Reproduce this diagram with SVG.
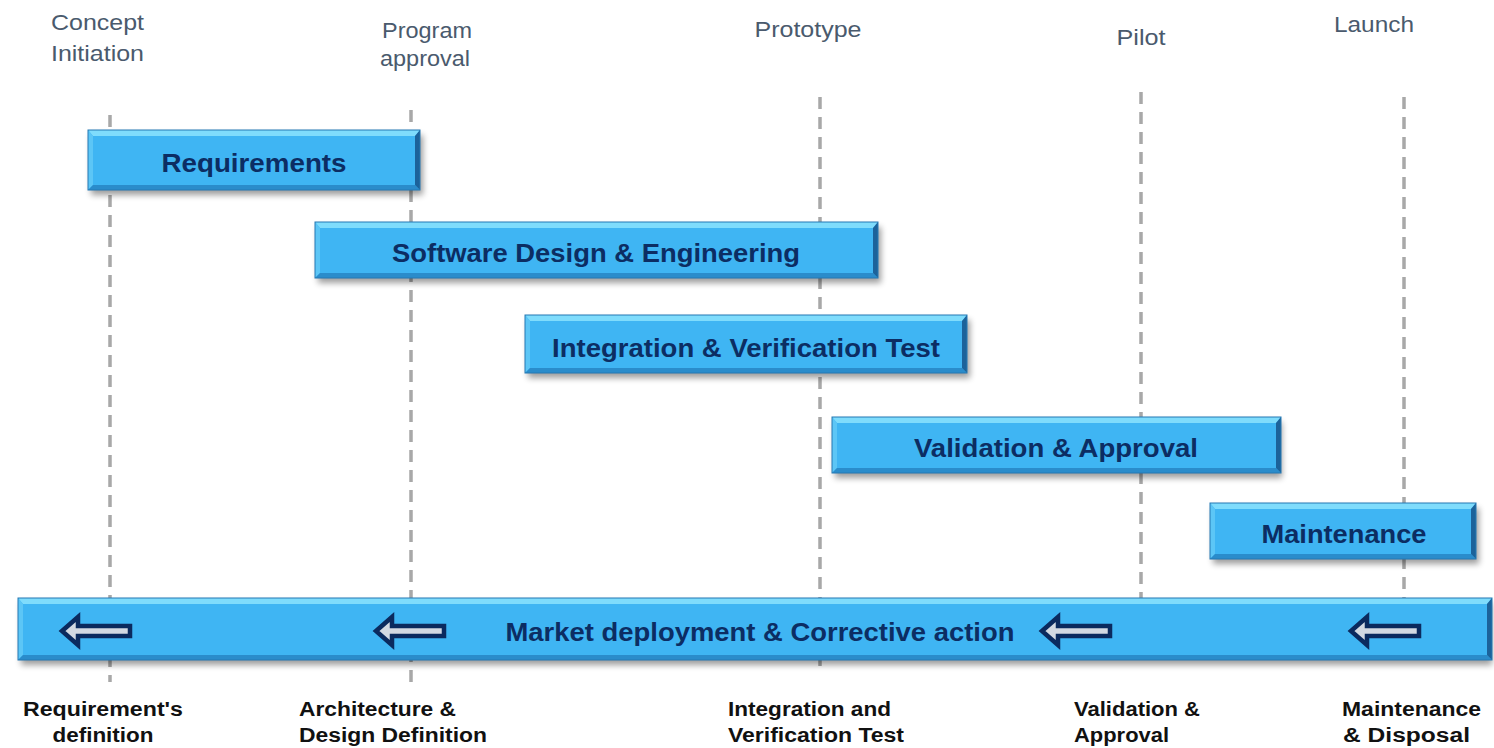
<svg xmlns="http://www.w3.org/2000/svg" width="1494" height="748" viewBox="0 0 1494 748">
  <defs>
    <style>
      .milestone { font-family: "Liberation Sans", Arial, sans-serif; font-size: 22px; fill: #4a5a6d; }
      .phase { font-family: "Liberation Sans", Arial, sans-serif; font-size: 26px; font-weight: bold; fill: #0c2d63; }
      .deliverable { font-family: "Liberation Sans", Arial, sans-serif; font-size: 20px; font-weight: bold; fill: #111111; }
      .guide { stroke: #a8a8a8; stroke-width: 3.5; stroke-dasharray: 12 8; fill: none; }
      .face { fill: #3fb5f3; }
      .bev-top { fill: #7fdcfc; }
      .bev-left { fill: #5cc6f6; }
      .bev-bottom { fill: #2a8ccb; }
      .bev-right { fill: #1c629a; }
      .edge { fill: none; stroke: #2479b3; stroke-width: 1; }
      .shadow { fill: #000; opacity: 0.38; filter: url(#soft); }
      .back-arrow { fill: #d3d9e2; stroke: #0b2a5e; stroke-width: 4.5; stroke-linejoin: miter; }
    </style>
    <filter id="soft" x="-5%" y="-40%" width="110%" height="180%">
      <feGaussianBlur stdDeviation="3"/>
    </filter>
    <!-- left-pointing block arrow, tip at origin -->
    <path id="arrow-left" class="back-arrow" d="M2,0 L18,-14 L18,-5 L70,-5 L70,5 L18,5 L18,14 Z"/>
  </defs>

  <rect width="1494" height="748" fill="#ffffff"/>

  <!-- milestone guide lines -->
  <g id="connectors">
    <line class="guide" x1="110" y1="115" x2="110" y2="682"/>
    <line class="guide" x1="411" y1="110" x2="411" y2="682"/>
    <line class="guide" x1="820" y1="97" x2="820" y2="666"/>
    <line class="guide" x1="1141" y1="92" x2="1141" y2="602"/>
    <line class="guide" x1="1404" y1="97" x2="1404" y2="612"/>
  </g>

  <!-- milestones -->
  <g id="milestone-concept">
    <text class="milestone" x="51" y="30" textLength="93" lengthAdjust="spacingAndGlyphs">Concept</text>
    <text class="milestone" x="51" y="61" textLength="93" lengthAdjust="spacingAndGlyphs">Initiation</text>
  </g>
  <g id="milestone-program">
    <text class="milestone" x="382" y="38" textLength="90" lengthAdjust="spacingAndGlyphs">Program</text>
    <text class="milestone" x="380" y="66" textLength="90" lengthAdjust="spacingAndGlyphs">approval</text>
  </g>
  <g id="milestone-prototype">
    <text class="milestone" x="808" y="37" text-anchor="middle" textLength="107" lengthAdjust="spacingAndGlyphs">Prototype</text>
  </g>
  <g id="milestone-pilot">
    <text class="milestone" x="1141" y="45" text-anchor="middle" textLength="49" lengthAdjust="spacingAndGlyphs">Pilot</text>
  </g>
  <g id="milestone-launch">
    <text class="milestone" x="1374" y="32" text-anchor="middle" textLength="80" lengthAdjust="spacingAndGlyphs">Launch</text>
  </g>

  <!-- phase bars -->
  <g id="phase-requirements">
    <rect class="shadow" x="91" y="135" width="332" height="60"/>
    <rect class="face" x="88" y="130" width="332" height="60"/>
    <polygon class="bev-top" points="88,130 420,130 415,136 93,136"/>
    <polygon class="bev-left" points="88,130 93,136 93,185 88,190"/>
    <polygon class="bev-bottom" points="88,190 93,185 415,185 420,190"/>
    <polygon class="bev-right" points="420,130 420,190 415,185 415,136"/>
    <rect class="edge" x="88" y="130" width="332" height="60"/>
    <text class="phase" x="254" y="172" text-anchor="middle" textLength="185" lengthAdjust="spacingAndGlyphs">Requirements</text>
  </g>

  <g id="phase-software-design">
    <rect class="shadow" x="318" y="227" width="563" height="56"/>
    <rect class="face" x="315" y="222" width="563" height="56"/>
    <polygon class="bev-top" points="315,222 878,222 873,228 320,228"/>
    <polygon class="bev-left" points="315,222 320,228 320,273 315,278"/>
    <polygon class="bev-bottom" points="315,278 320,273 873,273 878,278"/>
    <polygon class="bev-right" points="878,222 878,278 873,273 873,228"/>
    <rect class="edge" x="315" y="222" width="563" height="56"/>
    <text class="phase" x="596" y="262" text-anchor="middle" textLength="408" lengthAdjust="spacingAndGlyphs">Software Design &amp; Engineering</text>
  </g>

  <g id="phase-integration">
    <rect class="shadow" x="528" y="320" width="442" height="58"/>
    <rect class="face" x="525" y="315" width="442" height="58"/>
    <polygon class="bev-top" points="525,315 967,315 962,321 530,321"/>
    <polygon class="bev-left" points="525,315 530,321 530,368 525,373"/>
    <polygon class="bev-bottom" points="525,373 530,368 962,368 967,373"/>
    <polygon class="bev-right" points="967,315 967,373 962,368 962,321"/>
    <rect class="edge" x="525" y="315" width="442" height="58"/>
    <text class="phase" x="746" y="357" text-anchor="middle" textLength="388" lengthAdjust="spacingAndGlyphs">Integration &amp; Verification Test</text>
  </g>

  <g id="phase-validation">
    <rect class="shadow" x="835" y="422" width="447" height="56"/>
    <rect class="face" x="832" y="417" width="449" height="56"/>
    <polygon class="bev-top" points="832,417 1281,417 1276,423 837,423"/>
    <polygon class="bev-left" points="832,417 837,423 837,468 832,473"/>
    <polygon class="bev-bottom" points="832,473 837,468 1276,468 1281,473"/>
    <polygon class="bev-right" points="1281,417 1281,473 1276,468 1276,423"/>
    <rect class="edge" x="832" y="417" width="449" height="56"/>
    <text class="phase" x="1056" y="457" text-anchor="middle" textLength="284" lengthAdjust="spacingAndGlyphs">Validation &amp; Approval</text>
  </g>

  <g id="phase-maintenance">
    <rect class="shadow" x="1213" y="508" width="266" height="56"/>
    <rect class="face" x="1210" y="503" width="266" height="56"/>
    <polygon class="bev-top" points="1210,503 1476,503 1471,509 1215,509"/>
    <polygon class="bev-left" points="1210,503 1215,509 1215,554 1210,559"/>
    <polygon class="bev-bottom" points="1210,559 1215,554 1471,554 1476,559"/>
    <polygon class="bev-right" points="1476,503 1476,559 1471,554 1471,509"/>
    <rect class="edge" x="1210" y="503" width="266" height="56"/>
    <text class="phase" x="1344" y="543" text-anchor="middle" textLength="165" lengthAdjust="spacingAndGlyphs">Maintenance</text>
  </g>

  <g id="phase-market-deployment">
    <rect class="shadow" x="21" y="603" width="1471" height="62"/>
    <rect class="face" x="18" y="598" width="1474" height="62"/>
    <polygon class="bev-top" points="18,598 1492,598 1487,604 23,604"/>
    <polygon class="bev-left" points="18,598 23,604 23,655 18,660"/>
    <polygon class="bev-bottom" points="18,660 23,655 1487,655 1492,660"/>
    <polygon class="bev-right" points="1492,598 1492,660 1487,655 1487,604"/>
    <rect class="edge" x="18" y="598" width="1474" height="62"/>
    <text class="phase" x="760" y="641" text-anchor="middle" textLength="509" lengthAdjust="spacingAndGlyphs">Market deployment &amp; Corrective action</text>
    <use href="#arrow-left" x="60" y="631"/>
    <use href="#arrow-left" x="374" y="631"/>
    <use href="#arrow-left" x="1040" y="631"/>
    <use href="#arrow-left" x="1349" y="631"/>
  </g>

  <!-- deliverables -->
  <g id="deliverable-requirements">
    <text class="deliverable" x="103" y="716" text-anchor="middle" textLength="160" lengthAdjust="spacingAndGlyphs">Requirement's</text>
    <text class="deliverable" x="103" y="742" text-anchor="middle" textLength="101" lengthAdjust="spacingAndGlyphs">definition</text>
  </g>
  <g id="deliverable-architecture">
    <text class="deliverable" x="299" y="716" textLength="157" lengthAdjust="spacingAndGlyphs">Architecture &amp;</text>
    <text class="deliverable" x="299" y="742" textLength="188" lengthAdjust="spacingAndGlyphs">Design Definition</text>
  </g>
  <g id="deliverable-integration">
    <text class="deliverable" x="728" y="716" textLength="163" lengthAdjust="spacingAndGlyphs">Integration and</text>
    <text class="deliverable" x="728" y="742" textLength="176" lengthAdjust="spacingAndGlyphs">Verification Test</text>
  </g>
  <g id="deliverable-validation">
    <text class="deliverable" x="1074" y="716" textLength="126" lengthAdjust="spacingAndGlyphs">Validation &amp;</text>
    <text class="deliverable" x="1074" y="742" textLength="95" lengthAdjust="spacingAndGlyphs">Approval</text>
  </g>
  <g id="deliverable-maintenance">
    <text class="deliverable" x="1342" y="716" textLength="139" lengthAdjust="spacingAndGlyphs">Maintenance</text>
    <text class="deliverable" x="1343" y="742" textLength="127" lengthAdjust="spacingAndGlyphs">&amp; Disposal</text>
  </g>
</svg>
